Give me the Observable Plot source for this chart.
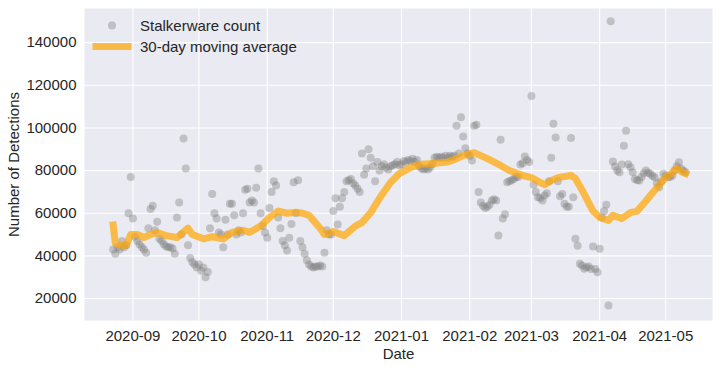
<!DOCTYPE html>
<html>
<head>
<meta charset="utf-8">
<script src="https://cdn.jsdelivr.net/npm/d3@7"></script>
<script src="https://cdn.jsdelivr.net/npm/@observablehq/plot@0.6"></script>
<style>
  html, body { margin: 0; padding: 0; background: #ffffff; }
  #wrap { position: relative; width: 720px; height: 367px; font-family: "Liberation Sans", Arial, sans-serif; color: #262626; }
  #legend { position: absolute; left: 90px; top: 15px; font-size: 15px; line-height: 21px; }
  #legend .row { display: flex; align-items: center; height: 21px; }
  #legend svg { width: 44px; height: 21px; margin-right: 6px; }
</style>
</head>
<body>
<div id="wrap"></div>
<script>
// Daily stalkerware detection counts, starting 2020-08-23
const countStart = "2020-08-23";
const countValues = [
  43000,41000,44000,43000,47000,44000,45000,60000,77000,57500,
  49000,47000,45500,44000,43000,41500,53000,62000,63500,52000,
  56000,48000,47000,45500,44500,44000,44000,43500,41000,58000,
  65000,50000,95000,81000,45000,39000,37000,36000,34500,36000,
  33000,34500,30000,32500,53000,69000,60000,57500,51000,50000,
  44000,57000,50000,64500,64500,59000,50000,52000,51000,60000,
  71000,71500,65000,66000,65000,72000,81000,60000,54000,51000,
  48500,62500,70000,75000,73000,58000,53000,47000,45000,42500,
  48500,55000,74500,60000,75500,47000,44000,41000,38000,36000,
  35000,34500,35000,35000,35500,35000,41500,52000,50000,50000,
  61000,67000,54700,63000,67000,70000,75000,75500,76000,74000,
  73000,71500,70000,88000,78000,81000,90000,86000,82000,75000,
  84000,80000,82000,83000,81500,80500,82000,82500,83000,84000,
  82500,83000,84500,84000,85000,84500,85500,84000,85000,82000,
  81000,80500,81000,80500,81500,83000,86000,86500,86000,86500,
  86000,87000,86000,87000,86500,87000,101000,88000,105000,96000,
  90500,88000,87000,84700,101000,101500,70000,65000,63500,62500,
  63000,64000,66000,66500,66000,49500,94500,57500,59500,74500,
  75000,75500,76000,77000,77000,82800,83400,86600,85000,84000,
  115000,73400,70000,67500,67200,66000,68300,69400,75000,86000,
  102000,95500,75000,68000,69000,64400,63000,63000,95300,67500,
  48000,44800,36300,35500,34000,34700,35000,33900,44400,33900,
  32300,43300,58000,61000,64000,16700,150000,84200,81900,80000,
  79200,82800,91700,98700,83000,81600,79200,76100,75500,75300,
  77000,78800,80000,79000,78500,77500,76900,74000,72200,75000,
  78500,77500,76900,77000,77700,80000,82000,83900,80800,80000,79200
];

// 30-day moving average, read at sample dates
const maDates = [
  "2020-08-23","2020-08-24","2020-08-26","2020-08-29","2020-08-31","2020-09-03","2020-09-06",
  "2020-09-09","2020-09-12","2020-09-16","2020-09-21","2020-09-26","2020-09-28","2020-10-03",
  "2020-10-07","2020-10-12","2020-10-16","2020-10-21","2020-10-24","2020-10-29","2020-11-02",
  "2020-11-06","2020-11-10","2020-11-14","2020-11-17","2020-11-20","2020-11-25","2020-11-27",
  "2020-12-01","2020-12-06","2020-12-11","2020-12-14","2020-12-18","2020-12-22","2020-12-27",
  "2020-12-31","2021-01-05","2021-01-09","2021-01-15","2021-01-22","2021-01-24","2021-01-29",
  "2021-02-03","2021-02-09","2021-02-15","2021-02-19","2021-02-25","2021-03-01","2021-03-05",
  "2021-03-07","2021-03-10","2021-03-13","2021-03-19","2021-03-21","2021-03-25","2021-03-29",
  "2021-04-01","2021-04-05","2021-04-07","2021-04-11","2021-04-15","2021-04-18","2021-04-21",
  "2021-04-24","2021-04-27","2021-05-01","2021-05-04","2021-05-06","2021-05-09","2021-05-10"
];
const maValues = [
  54500,46000,45000,45000,50000,50000,48600,
  50000,51000,49500,48600,53000,50000,48000,
  49000,48000,51000,52000,51000,54000,58000,
  61000,60000,60500,60000,59000,53000,50000,
  51400,49500,54000,55600,60300,67000,74400,
  78600,81400,82800,83300,84000,84700,87000,
  88400,85600,82400,80000,77700,76700,74400,
  73400,75300,76700,77700,76300,69000,61000,
  58000,56600,59000,57500,60300,61000,64500,
  68300,72000,76700,79000,81000,79000,78600
];

const monthTicks = ["2020-09","2020-10","2020-11","2020-12","2021-01","2021-02","2021-03","2021-04","2021-05"];
const yTicks = [20000, 40000, 60000, 80000, 100000, 120000, 140000];
const seriesLabels = ["Stalkerware count", "30-day moving average"];

const start = new Date(countStart + "T00:00:00Z");
const counts = countValues.map((v, i) => ({date: d3.utcDay.offset(start, i), value: v}));
const ma = maDates.map((d, i) => ({date: new Date(d + "T00:00:00Z"), value: maValues[i]}));
const monthDates = monthTicks.map(m => new Date(m + "-01T00:00:00Z"));

const chart = Plot.plot({
  width: 720,
  height: 367,
  marginLeft: 84,
  marginRight: 8,
  marginTop: 8,
  marginBottom: 47,
  style: {fontFamily: "'Liberation Sans', Arial, sans-serif", fontSize: "15px", color: "#262626", background: "#ffffff"},
  x: {type: "utc", domain: [new Date("2020-08-10T00:00:00Z"), new Date("2021-05-22T06:00:00Z")]},
  y: {domain: [9700, 156000]},
  marks: [
    Plot.frame({fill: "#EAEAF2", stroke: null}),
    Plot.gridX(monthDates, {stroke: "#ffffff", strokeOpacity: 1, strokeWidth: 1.1}),
    Plot.gridY(yTicks, {stroke: "#ffffff", strokeOpacity: 1, strokeWidth: 1.1}),
    Plot.dot(counts, {x: "date", y: "value", r: 4, fill: "#808080", fillOpacity: 0.4, stroke: null}),
    Plot.line(ma, {x: "date", y: "value", stroke: "#FFA500", strokeOpacity: 0.7, strokeWidth: 7, strokeLinejoin: "round", strokeLinecap: "square"}),
    Plot.axisX(monthDates, {tickSize: 0, tickPadding: 10, tickFormat: d3.utcFormat("%Y-%m"), fontSize: 15,
      label: "Date", labelAnchor: "center", labelArrow: "none", labelOffset: 38}),
    Plot.axisY(yTicks, {tickSize: 0, tickPadding: 8, tickFormat: d => String(d), fontSize: 15,
      label: "Number of Detections", labelAnchor: "center", labelArrow: "none", labelOffset: 76})
  ]
});

const wrap = document.getElementById("wrap");
wrap.appendChild(chart);

const legend = document.createElement("div");
legend.id = "legend";
legend.innerHTML = `
  <div class="row"><svg viewBox="0 0 44 21"><circle cx="22" cy="10.5" r="4" fill="#808080" fill-opacity="0.4"></circle></svg><span>${seriesLabels[0]}</span></div>
  <div class="row"><svg viewBox="0 0 44 21"><line x1="6" x2="38" y1="10.5" y2="10.5" stroke="#FFA500" stroke-opacity="0.7" stroke-width="7" stroke-linecap="square"></line></svg><span>${seriesLabels[1]}</span></div>`;
wrap.appendChild(legend);
</script>
</body>
</html>
